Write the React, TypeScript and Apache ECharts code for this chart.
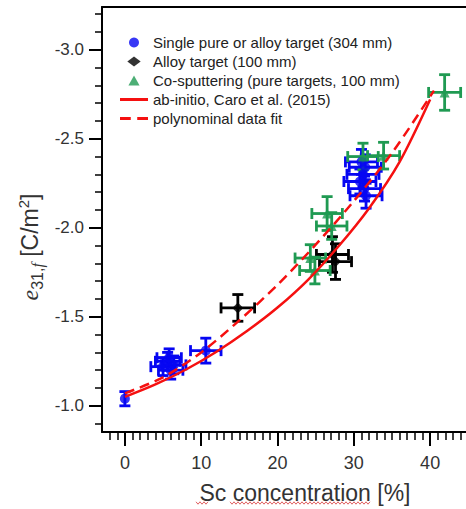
import React, { useEffect, useRef } from "react";
import * as echarts from "echarts";

// [Sc %, e31,f, xErr, yErr]
const singleTarget = [
  [0, -1.04, 0, 0.04],
  [5.0, -1.22, 1.6, 0.05],
  [5.6, -1.25, 1.6, 0.05],
  [6.0, -1.2, 1.6, 0.05],
  [6.4, -1.23, 1.6, 0.05],
  [5.8, -1.27, 1.6, 0.05],
  [10.6, -1.31, 2.0, 0.07],
  [31.0, -2.37, 2.1, 0.07],
  [31.5, -2.34, 2.1, 0.07],
  [31.2, -2.3, 2.1, 0.07],
  [30.8, -2.26, 2.1, 0.07],
  [31.4, -2.22, 2.1, 0.07],
  [31.6, -2.18, 2.1, 0.07],
];
const alloyTarget = [
  [14.8, -1.55, 2.2, 0.075],
  [27.2, -1.85, 2.1, 0.1],
  [27.6, -1.81, 2.1, 0.1],
];
const coSputtering = [
  [24.3, -1.83, 2.0, 0.075],
  [24.9, -1.76, 2.0, 0.075],
  [26.5, -2.08, 2.0, 0.095],
  [27.1, -2.01, 2.0, 0.075],
  [31.2, -2.4, 2.0, 0.075],
  [33.9, -2.405, 2.1, 0.075],
  [41.9, -2.76, 2.1, 0.1],
];
const abInitio = [
  [0, -1.05], [4, -1.12], [8, -1.204], [12, -1.304], [16, -1.42], [20, -1.552],
  [24, -1.708], [28, -1.896], [32, -2.11], [36, -2.37], [40, -2.72],
];
const polyFit = [
  [0, -1.07], [5, -1.16], [10, -1.3], [15, -1.48], [20, -1.68],
  [25, -1.905], [30, -2.15], [35, -2.42], [40.5, -2.77],
];

const xMajorTicks = [0, 10, 20, 30, 40];
const xMinorTicks = [-2, -1, 1, 2, 3, 4, 5, 6, 7, 8, 9, 11, 12, 13, 14, 15, 16, 17, 18, 19, 21, 22, 23, 24, 25, 26, 27, 28, 29, 31, 32, 33, 34, 35, 36, 37, 38, 39, 41, 42, 43, 44];
const yMajorTicks = [-3.0, -2.5, -2.0, -1.5, -1.0];
const yMinorTicks = [-3.2, -3.1, -2.9, -2.8, -2.7, -2.6, -2.4, -2.3, -2.2, -2.1, -1.9, -1.8, -1.7, -1.6, -1.4, -1.3, -1.2, -1.1, -0.9];

const names = [
  "Single pure or alloy target (304 mm)",
  "Alloy target (100 mm)",
  "Co-sputtering (pure targets, 100 mm)",
  "ab-initio, Caro et al. (2015)",
  "polynominal data fit",
];

const FONT = "'Liberation Sans', Arial, sans-serif";
const BLUE = "#0606f2";
const BLACK = "#000000";
const GREEN = "#1f9a52";
const RED = "#f51010";

function errorRender(color: string) {
  return (params: any, api: any) => {
    const x = api.value(0);
    const y = api.value(1);
    const xe = api.value(2);
    const ye = api.value(3);
    const cap = 5.5;
    const style = { stroke: color, lineWidth: 2.8, fill: "none" };
    const children: any[] = [];
    if (ye > 0) {
      const t = api.coord([x, y - ye]);
      const b = api.coord([x, y + ye]);
      children.push({ type: "line", shape: { x1: t[0], y1: t[1], x2: b[0], y2: b[1] }, style });
      children.push({ type: "line", shape: { x1: t[0] - cap, y1: t[1], x2: t[0] + cap, y2: t[1] }, style });
      children.push({ type: "line", shape: { x1: b[0] - cap, y1: b[1], x2: b[0] + cap, y2: b[1] }, style });
    }
    if (xe > 0) {
      const l = api.coord([x - xe, y]);
      const r = api.coord([x + xe, y]);
      children.push({ type: "line", shape: { x1: l[0], y1: l[1], x2: r[0], y2: r[1] }, style });
      children.push({ type: "line", shape: { x1: l[0], y1: l[1] - cap, x2: l[0], y2: l[1] + cap }, style });
      children.push({ type: "line", shape: { x1: r[0], y1: r[1] - cap, x2: r[0], y2: r[1] + cap }, style });
    }
    return { type: "group", children };
  };
}

function wavy(x1: number, x2: number, y: number) {
  const pts: number[][] = [];
  let up = true;
  for (let x = x1; x <= x2; x += 2) {
    pts.push([x, y + (up ? -1.2 : 1.2)]);
    up = !up;
  }
  return pts;
}

export default function App() {
  const ref = useRef<HTMLDivElement>(null);
  useEffect(() => {
    if (!ref.current) return;
    const chart = echarts.init(ref.current, null, { renderer: "svg" });
    const xBase = { type: "value", min: -3, max: 44.7, splitLine: { show: false } };
    const yBase = { type: "value", min: -3.24, max: -0.853, inverse: true, splitLine: { show: false } };
    const noBorder = { borderWidth: 0 };
    chart.setOption({
      animation: false,
      backgroundColor: "#ffffff",
      grid: { left: 102, top: 7, right: 0, bottom: 77, containLabel: false },
      legend: {
        orient: "vertical",
        left: 115,
        top: 30,
        itemWidth: 28,
        itemHeight: 10,
        itemGap: 4,
        symbolKeepAspect: true,
        textStyle: { fontSize: 15, color: "#222", fontFamily: FONT, lineHeight: 15 },
        data: [
          { name: names[0], icon: "circle", itemStyle: noBorder },
          { name: names[1], icon: "path://M6,0L12,4.5L6,9L0,4.5Z", itemStyle: noBorder },
          { name: names[2], icon: "path://M5,0L10,9L0,9Z", itemStyle: noBorder },
          { name: names[3], icon: "path://M0,0H28V3H0Z", itemStyle: noBorder },
          { name: names[4], icon: "path://M0,0H10V3H0Z M16,0H26V3H16Z", itemStyle: noBorder },
        ],
      },
      xAxis: [
        {
          ...xBase,
          position: "bottom",
          axisLine: { show: true, onZero: false, lineStyle: { color: "#000", width: 2 } },
          axisTick: { show: true, customValues: xMajorTicks, length: 14, lineStyle: { color: "#000", width: 2 } },
          axisLabel: { customValues: xMajorTicks, margin: 22, fontSize: 18, color: "#333", fontFamily: FONT },
        },
        {
          ...xBase,
          position: "bottom",
          axisLine: { show: false, onZero: false },
          axisTick: { show: true, customValues: xMinorTicks, length: 8, lineStyle: { color: "#000", width: 1.5 } },
          axisLabel: { show: false },
        },
        {
          ...xBase,
          position: "top",
          axisLine: { show: true, onZero: false, lineStyle: { color: "#000", width: 2 } },
          axisTick: { show: false },
          axisLabel: { show: false },
        },
      ],
      yAxis: [
        {
          ...yBase,
          position: "left",
          axisLine: { show: true, onZero: false, lineStyle: { color: "#000", width: 2 } },
          axisTick: { show: true, customValues: yMajorTicks, length: 13, lineStyle: { color: "#000", width: 2 } },
          axisLabel: {
            customValues: yMajorTicks,
            margin: 18,
            fontSize: 17,
            color: "#333",
            fontFamily: FONT,
            formatter: (v: number) => v.toFixed(1),
          },
        },
        {
          ...yBase,
          position: "left",
          axisLine: { show: false, onZero: false },
          axisTick: { show: true, customValues: yMinorTicks, length: 7, lineStyle: { color: "#000", width: 1.5 } },
          axisLabel: { show: false },
        },
      ],
      series: [
        { type: "custom", renderItem: errorRender(BLUE), data: singleTarget, encode: { x: 0, y: 1 }, silent: true, z: 2 },
        { type: "custom", renderItem: errorRender(BLACK), data: alloyTarget, encode: { x: 0, y: 1 }, silent: true, z: 2 },
        { type: "custom", renderItem: errorRender(GREEN), data: coSputtering, encode: { x: 0, y: 1 }, silent: true, z: 2 },
        {
          name: names[0], type: "scatter", symbol: "circle", symbolSize: 10, z: 3,
          itemStyle: { color: BLUE },
          data: singleTarget.map((d) => [d[0], d[1]]),
        },
        {
          name: names[1], type: "scatter", symbol: "diamond", symbolSize: 11, z: 3,
          itemStyle: { color: BLACK },
          data: alloyTarget.map((d) => [d[0], d[1]]),
        },
        {
          name: names[2], type: "scatter", symbol: "triangle", symbolSize: 10, z: 3,
          itemStyle: { color: GREEN },
          data: coSputtering.map((d) => [d[0], d[1]]),
        },
        {
          name: names[3], type: "line", symbol: "none", smooth: 0.3, z: 4,
          lineStyle: { color: RED, width: 2.5 }, itemStyle: { color: RED },
          data: abInitio,
        },
        {
          name: names[4], type: "line", symbol: "none", smooth: 0.3, z: 4,
          lineStyle: { color: RED, width: 2.5, type: [10, 6] }, itemStyle: { color: RED },
          data: polyFit,
        },
      ],
      graphic: [
        {
          type: "text",
          x: 305,
          y: 493,
          style: {
            text: "Sc concentration [%]",
            fontSize: 23,
            fontFamily: FONT,
            fill: "#333",
            align: "center",
            verticalAlign: "middle",
          },
        },
        { type: "polyline", shape: { points: wavy(196, 209, 503) }, style: { stroke: "#e06060", lineWidth: 1, fill: "none" } },
        { type: "polyline", shape: { points: wavy(230, 370, 503) }, style: { stroke: "#e06060", lineWidth: 1, fill: "none" } },
        {
          type: "text",
          x: 30,
          y: 247,
          rotation: Math.PI / 2,
          style: {
            text: "{e|e}{sub|31,}{subi|f}{n| [C/m}{sup|2}{n|]}",
            fontFamily: FONT,
            fill: "#333",
            align: "center",
            verticalAlign: "middle",
            rich: {
              e: { fontSize: 24, fontStyle: "italic", fontFamily: "'Liberation Serif', serif", fill: "#333" },
              sub: { fontSize: 16, fontFamily: FONT, padding: [14, 0, 0, 0], fill: "#333" },
              subi: { fontSize: 16, fontStyle: "italic", fontFamily: "'Liberation Serif', serif", padding: [14, 0, 0, 0], fill: "#333" },
              n: { fontSize: 23, fontFamily: FONT, fill: "#333" },
              sup: { fontSize: 15, fontFamily: FONT, padding: [0, 0, 14, 0], fill: "#333" },
            },
          },
        },
      ],
    });
    return () => chart.dispose();
  }, []);
  return (
    <div
      ref={ref}
      style={{ position: "fixed", left: 0, top: 0, width: 466, height: 509, background: "#fff" }}
    />
  );
}
